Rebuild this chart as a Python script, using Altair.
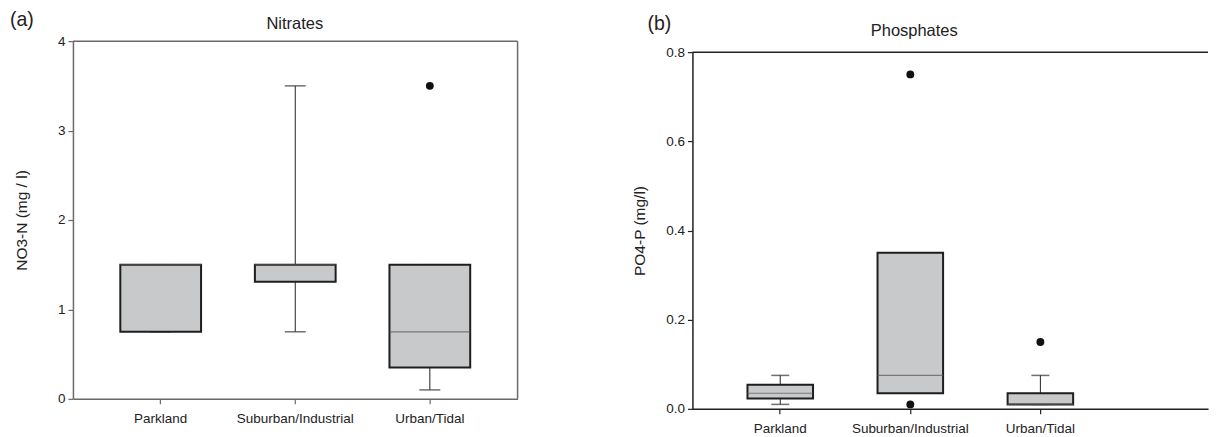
import altair as alt
import pandas as pd

categories = ["Parkland", "Suburban/Industrial", "Urban/Tidal"]

# Nitrates (panel a)
no3_lo = [0.75, 0.75, 0.1]
no3_q1 = [0.75, 1.31, 0.35]
no3_median = [1.5, 1.5, 0.75]
no3_q3 = [1.5, 1.5, 1.5]
no3_hi = [1.5, 3.5, 1.5]
no3_out_cat = ["Urban/Tidal"]
no3_out_val = [3.5]

# Phosphates (panel b)
po4_lo = [0.01, 0.035, 0.01]
po4_q1 = [0.023, 0.035, 0.01]
po4_median = [0.035, 0.075, 0.01]
po4_q3 = [0.054, 0.35, 0.035]
po4_hi = [0.075, 0.35, 0.075]
po4_out_cat = ["Suburban/Industrial", "Suburban/Industrial", "Urban/Tidal"]
po4_out_val = [0.75, 0.01, 0.15]

FONT = "Liberation Sans"
FILL = "#c8c9cb"


def panel(lo, q1, med, q3, hi, out_cat, out_val, ymax, yticks, yfmt, ytitle,
          title, tag, W, H, rng, xdomain, pin, pout, align, frame_color, cap,
          x_offset, draw_right, tag_x, tag_y, title_y, title_pad, median_w):
    df = pd.DataFrame({"cat": categories, "lo": lo, "q1": q1, "med": med,
                       "q3": q3, "hi": hi})
    dout = pd.DataFrame({"cat": out_cat, "v": out_val})
    ysc = alt.Scale(domain=[0, ymax], range=rng, nice=False, zero=True)
    xsc = alt.Scale(domain=xdomain, paddingInner=pin, paddingOuter=pout, align=align)
    xax = alt.Axis(title=None, values=categories, labelFont=FONT, labelFontSize=13.5,
                   labelColor="#222", domainColor=frame_color, domainWidth=1.5,
                   tickColor=frame_color, tickWidth=1.2, tickSize=5, labelPadding=8,
                   offset=x_offset, labelAngle=0, orient="bottom")
    yax = alt.Axis(title=ytitle, values=yticks, format=yfmt, labelFont=FONT,
                   labelFontSize=13.5, labelColor="#222", titleFont=FONT,
                   titleFontSize=15.5, titleFontWeight="normal", titleColor="#222",
                   domainColor=frame_color, domainWidth=1.5, tickColor=frame_color,
                   tickWidth=1.2, tickSize=5, labelPadding=3, grid=False,
                   titlePadding=title_pad, orient="left")
    xs = alt.X("cat:N", scale=xsc, axis=xax, sort=xdomain)

    def ys(f):
        return alt.Y(f, scale=ysc, axis=yax)

    base = alt.Chart(df)
    whisk = base.mark_rule(color="#222", strokeWidth=1).encode(
        x=xs, y=ys("lo:Q"), y2="hi:Q")
    box = base.mark_bar(fill=FILL, stroke="#1e1e1e", strokeWidth=2).encode(
        x=xs, y=ys("q1:Q"), y2="q3:Q")
    capl = base.mark_tick(color="#333", thickness=1.5, size=cap, orient="horizontal").encode(
        x=xs, y=ys("lo:Q"))
    caph = base.mark_tick(color="#333", thickness=1.5, size=cap, orient="horizontal").encode(
        x=xs, y=ys("hi:Q"))
    median = base.mark_tick(color="#555", thickness=1.2, orient="horizontal",
                            size=median_w).encode(
        x=xs, y=ys("med:Q"))
    outl = alt.Chart(dout).mark_circle(color="#111", size=62, opacity=1).encode(
        x=xs, y=ys("v:Q"))
    topline = alt.Chart(pd.DataFrame({"v": [ymax]})).mark_rule(
        color=frame_color, strokeWidth=1.5).encode(
        x=alt.value(0), x2=alt.value(W), y=ys("v:Q"))
    layers = [whisk, capl, caph, box, median, outl, topline]
    if draw_right:
        rightline = alt.Chart(pd.DataFrame({"a": [0], "b": [ymax]})).mark_rule(
            color=frame_color, strokeWidth=1.5).encode(
            x=alt.value(W), y=ys("a:Q"), y2="b:Q")
        layers.append(rightline)
    ttl = alt.Chart(pd.DataFrame({"t": [title]})).mark_text(
        font=FONT, fontSize=16.5, color="#222", baseline="middle", align="center").encode(
        text="t:N", x=alt.value(222), y=alt.value(title_y))
    tg = alt.Chart(pd.DataFrame({"t": [tag]})).mark_text(
        font=FONT, fontSize=19.5, color="#222", baseline="middle", align="left").encode(
        text="t:N", x=alt.value(tag_x), y=alt.value(tag_y))
    layers += [ttl, tg]
    return alt.layer(*layers).properties(width=W, height=H)


HA = 368
pa = panel(no3_lo, no3_q1, no3_median, no3_q3, no3_hi, no3_out_cat, no3_out_val,
           4, [0, 1, 2, 3, 4], "d", "NO3-N (mg / l)", "Nitrates", "(a)",
           445, HA, [358, 0], categories, 0.4, 0.352, 0.5, "#6a6a6a", 21, -10, True,
           -63, -21, -17.5, 28, 81)
pb = panel(po4_lo, po4_q1, po4_median, po4_q3, po4_hi, po4_out_cat, po4_out_val,
           0.8, [0, 0.2, 0.4, 0.6, 0.8], ".1f", "PO4-P (mg/l)", "Phosphates", "(b)",
           516, HA, [368, 11], categories + [" "], 0.496, 0.23, 0.92, "#222", 18, 0,
           False, -45, -17, -10.5, 18, 66)

chart = alt.hconcat(pa, pb, spacing=175, bounds="flush").properties(
    padding={"left": 2, "top": 2, "right": 0, "bottom": 0}
).configure_view(stroke=None)

chart.save("out.html", embed_options={"renderer": "svg", "actions": False})
